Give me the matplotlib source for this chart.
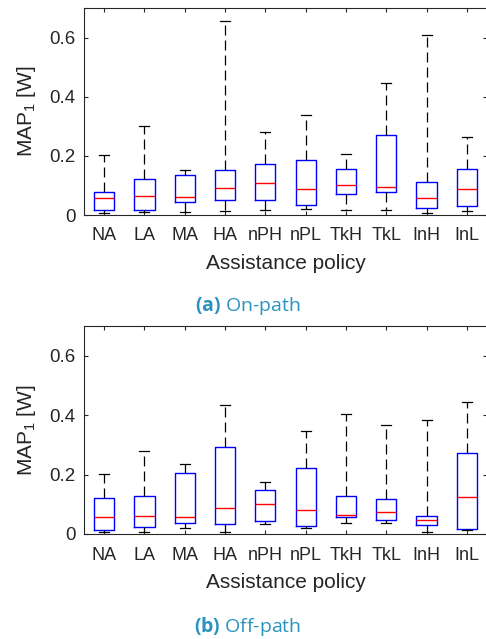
import numpy as np
import matplotlib.pyplot as plt

policies = ["NA", "LA", "MA", "HA", "nPH", "nPL", "TkH", "TkL", "InH", "InL"]

# on-path: whisker low, Q1, median, Q3, whisker high
on_low = [0.006, 0.010, 0.009, 0.012, 0.016, 0.019, 0.017, 0.017, 0.008, 0.012]
on_q1 = [0.017, 0.016, 0.043, 0.050, 0.052, 0.033, 0.071, 0.077, 0.024, 0.029]
on_med = [0.056, 0.065, 0.061, 0.090, 0.109, 0.087, 0.100, 0.095, 0.056, 0.087]
on_q3 = [0.077, 0.121, 0.135, 0.153, 0.174, 0.187, 0.157, 0.272, 0.112, 0.156]
on_high = [0.203, 0.301, 0.152, 0.657, 0.282, 0.338, 0.206, 0.445, 0.608, 0.264]

# off-path
off_low = [0.007, 0.007, 0.020, 0.008, 0.033, 0.020, 0.037, 0.037, 0.007, 0.015]
off_q1 = [0.012, 0.023, 0.036, 0.033, 0.044, 0.026, 0.058, 0.047, 0.031, 0.017]
off_med = [0.058, 0.059, 0.058, 0.086, 0.102, 0.081, 0.063, 0.074, 0.048, 0.123]
off_q3 = [0.120, 0.128, 0.204, 0.294, 0.148, 0.223, 0.127, 0.119, 0.061, 0.274]
off_high = [0.202, 0.278, 0.237, 0.434, 0.175, 0.345, 0.404, 0.368, 0.382, 0.443]

yticks = [0, 0.2, 0.4, 0.6]
tick_labels = ["0", "0.2", "0.4", "0.6"]

plt.rcParams['font.family'] = ['Liberation Sans', 'DejaVu Sans']
plt.rcParams['mathtext.fontset'] = 'custom'
plt.rcParams['mathtext.rm'] = 'Liberation Sans'
plt.rcParams['mathtext.bf'] = 'Open Sans:bold'
txt = '#262626'
cap_color = '#2b93bf'


def make_stats(low, q1, med, q3, high):
    stats = []
    for i in range(len(low)):
        stats.append({'whislo': low[i], 'q1': q1[i], 'med': med[i],
                      'q3': q3[i], 'whishi': high[i], 'fliers': []})
    return stats


def draw_panel(ax, stats):
    ax.bxp(stats, positions=np.arange(1, len(stats) + 1), widths=0.5,
           showfliers=False,
           boxprops=dict(color='#0000ff', linewidth=1.0),
           medianprops=dict(color='#ff0000', linewidth=1.0),
           whiskerprops=dict(color='black', linewidth=0.9,
                             linestyle=(0, (8, 4))),
           capprops=dict(color='black', linewidth=0.9),
           capwidths=0.25)
    ax.set_xlim(0.5, 10.5)
    ax.set_ylim(0, 0.7)
    ax.set_xticks(np.arange(1, len(policies) + 1))
    ax.set_xticklabels(policies, fontsize=13, color=txt)
    ax.set_yticks(yticks)
    ax.set_yticklabels(tick_labels, fontsize=13.5, color=txt)
    ax.tick_params(direction='in', length=3, color=txt, top=True, right=True)
    ax.tick_params(axis='x', pad=9)
    ax.tick_params(axis='y', pad=6)
    for s in ax.spines.values():
        s.set_color(txt)
        s.set_linewidth(0.8)
    ax.set_xlabel("Assistance policy", fontsize=15, color=txt, labelpad=7)
    ax.set_ylabel("MAP$_1$ [W]", fontsize=15, color=txt, labelpad=8)


fig = plt.figure(figsize=(4.86, 6.39), dpi=100)
W, H = 486, 639
ax1 = fig.add_axes([84 / W, 1 - 215 / H, (487 - 84) / W, (215 - 8) / H])
ax2 = fig.add_axes([84 / W, 1 - 534 / H, (487 - 84) / W, (534 - 326) / H])

draw_panel(ax1, make_stats(on_low, on_q1, on_med, on_q3, on_high))
draw_panel(ax2, make_stats(off_low, off_q1, off_med, off_q3, off_high))

fig.text(248 / W, 1 - 306 / H, r"$\bf{(a)}$ On-path", ha='center',
         va='center', fontsize=14, color=cap_color, family='Open Sans')
fig.text(248 / W, 1 - 626 / H, r"$\bf{(b)}$ Off-path", ha='center',
         va='center', fontsize=14, color=cap_color, family='Open Sans')

fig.savefig("out.png", dpi=100)
